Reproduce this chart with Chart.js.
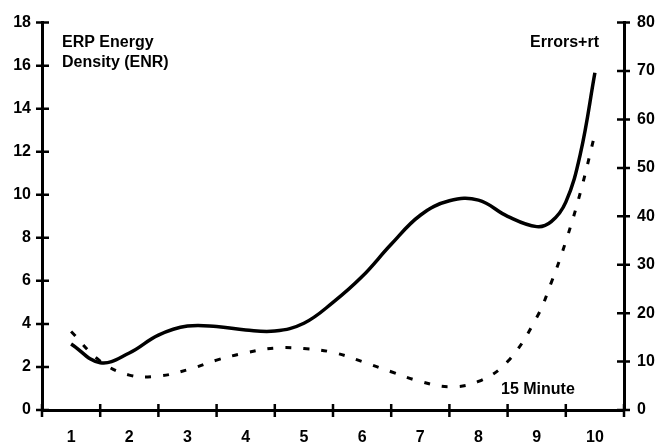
<!DOCTYPE html>
<html>
<head>
<meta charset="utf-8">
<script src="https://cdn.jsdelivr.net/npm/chart.js@4/dist/chart.umd.min.js"></script>
<style>
  html, body { margin: 0; padding: 0; background: #fff; }
  #wrap { width: 661px; height: 445px; }
</style>
</head>
<body>
<div id="wrap"><canvas id="chart"></canvas></div>
<script>
// Categories on the x axis and the two curves
const categories = ['1', '2', '3', '4', '5', '6', '7', '8', '9', '10'];
// positions along the category axis where the curves were sampled
const positions = [1, 1.5, 2, 2.5, 3, 3.5, 4, 4.5, 5, 5.5, 6, 6.5, 7, 7.5, 8, 8.5, 9, 9.25, 9.5, 9.75, 10];
// ERP Energy Density (left axis)
const enrValues = [3.07, 2.2, 2.65, 3.48, 3.9, 3.88, 3.72, 3.67, 4.03, 5.0, 6.2, 7.7, 9.05, 9.72, 9.75, 9.0, 8.52, 8.75, 9.66, 11.9, 15.67];
// Errors+rt (right axis)
const errorValues = [16.2, 10.1, 7.2, 7.0, 8.3, 10.3, 11.8, 12.8, 12.7, 11.9, 10.0, 7.9, 5.9, 4.8, 5.9, 10.0, 19.1, 26.3, 34.8, 44.9, 57];
const leftTicks = [0, 2, 4, 6, 8, 10, 12, 14, 16, 18];
const rightTicks = [0, 10, 20, 30, 40, 50, 60, 70, 80];

const FONT = '"Liberation Sans", Arial, sans-serif';

function toPoints(vals) {
    return positions.map((p, i) => ({ x: p, y: vals[i] }));
}

// tick marks that cross the axis line, and the free text labels
const decorations = {
    id: 'decorations',
    afterDraw(chart) {
        const ctx = chart.ctx;
        const xl = chart.scales.xl, y = chart.scales.y, y1 = chart.scales.y1;
        const area = chart.chartArea;
        ctx.save();
        ctx.strokeStyle = '#000';
        ctx.lineWidth = 2.5;
        ctx.beginPath();
        leftTicks.forEach(v => {
            const p = y.getPixelForValue(v);
            ctx.moveTo(area.left - 6, p); ctx.lineTo(area.left + 7, p);
        });
        rightTicks.forEach(v => {
            const p = y1.getPixelForValue(v);
            ctx.moveTo(area.right - 7, p); ctx.lineTo(area.right + 6, p);
        });
        for (let k = 0; k <= categories.length; k++) {
            const p = xl.getPixelForValue(k + 0.5);
            ctx.moveTo(p, area.bottom - 6); ctx.lineTo(p, area.bottom + 7);
        }
        ctx.stroke();

        ctx.fillStyle = '#000';
        ctx.font = 'bold 16px ' + FONT;
        ctx.textBaseline = 'middle';
        ctx.textAlign = 'left';
        ctx.fillText('ERP Energy', area.left + 20, 43);
        ctx.fillText('Density (ENR)', area.left + 20, 63);
        ctx.textAlign = 'right';
        ctx.fillText('Errors+rt', area.right - 25, 43);
        ctx.textAlign = 'left';
        ctx.fillText('15 Minute', 501, 390);
        ctx.restore();
    }
};

new Chart(document.getElementById('chart'), {
    type: 'line',
    data: {
        labels: categories,
        datasets: [{
            label: 'ERP Energy Density (ENR)',
            data: toPoints(enrValues),
            xAxisID: 'xl',
            yAxisID: 'y',
            borderColor: '#000',
            borderWidth: 3.5,
            pointRadius: 0,
            tension: 0.4,
            fill: false
        }, {
            label: 'Errors+rt',
            data: toPoints(errorValues),
            xAxisID: 'xl',
            yAxisID: 'y1',
            borderColor: '#000',
            borderWidth: 3,
            borderDash: [6, 12],
            pointRadius: 0,
            tension: 0.4,
            fill: false
        }]
    },
    options: {
        responsive: true,
        maintainAspectRatio: false,
        animation: false,
        layout: { padding: { top: 17, left: 0, right: 0, bottom: 0 } },
        plugins: {
            legend: { display: false },
            tooltip: { enabled: false }
        },
        scales: {
            x: {
                type: 'category',
                offset: true,
                grid: { display: false, drawTicks: false, offset: true },
                border: { display: true, color: '#000', width: 3 },
                ticks: { color: '#000', font: { family: FONT, size: 16, weight: 'bold' }, padding: 18, maxRotation: 0 },
                afterFit: s => { s.height = 35; }
            },
            xl: {
                type: 'linear',
                display: false,
                min: 0.5,
                max: 10.5
            },
            y: {
                position: 'left',
                min: 0,
                max: 18,
                grid: { display: false, drawTicks: false },
                border: { display: true, color: '#000', width: 3 },
                ticks: { stepSize: 2, color: '#000', font: { family: FONT, size: 16, weight: 'bold' }, padding: 11 },
                afterFit: s => { s.width = 42; }
            },
            y1: {
                position: 'right',
                min: 0,
                max: 80,
                grid: { display: false, drawTicks: false },
                border: { display: true, color: '#000', width: 3 },
                ticks: { stepSize: 10, color: '#000', font: { family: FONT, size: 16, weight: 'bold' }, padding: 13 },
                afterFit: s => { s.width = 37; }
            }
        }
    },
    plugins: [decorations]
});
</script>
</body>
</html>
